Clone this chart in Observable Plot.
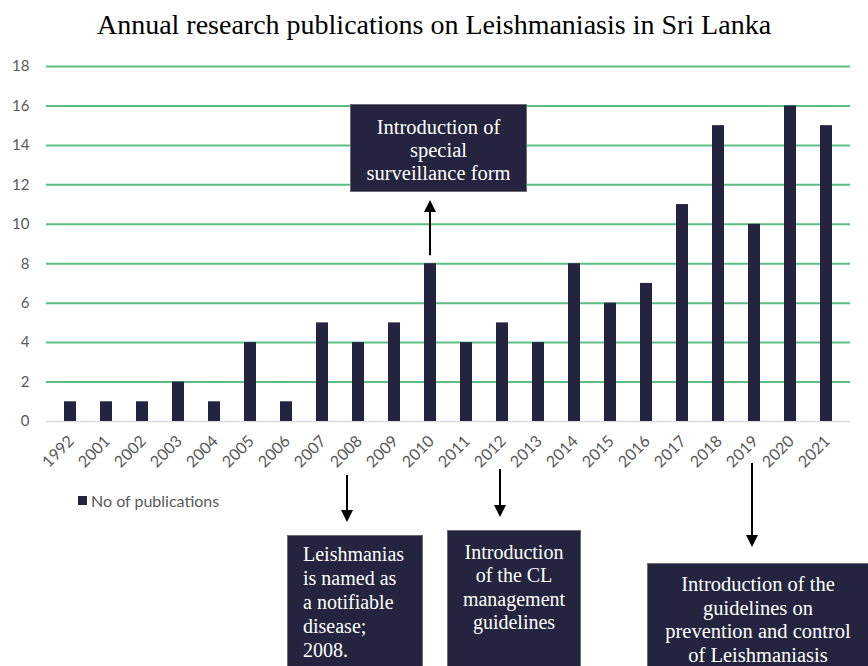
<!DOCTYPE html>
<html>
<head>
<meta charset="utf-8">
<script src="https://cdn.jsdelivr.net/npm/d3@7"></script>
<script src="https://cdn.jsdelivr.net/npm/@observablehq/plot@0.6"></script>
<style>
  html, body { margin: 0; padding: 0; background: #fff; }
  #wrap { position: relative; width: 868px; height: 666px; overflow: hidden; background: #fff; }
  #title { height: 46px; width: 868px; text-align: center; font-family: "Liberation Serif", serif; font-size: 28px; line-height: 30px; box-sizing: border-box; color: #000; }
  #title span { position: relative; top: 10px; }
  .legend { position: absolute; left: 78px; top: 491px; font-family: Lato, "Open Sans", sans-serif; font-size: 16px; color: #595959; display: flex; align-items: center; }
  .legend i { display: inline-block; width: 9px; height: 9px; background: #252440; margin-right: 4px; }
  .box { position: absolute; background: #25243f; border: 1px solid #6b6b78; box-sizing: border-box; color: #fff; font-family: "Liberation Serif", serif; }
  .box div { white-space: nowrap; }
  #overlay { position: absolute; left: 0; top: 0; pointer-events: none; }
</style>
</head>
<body>
<div id="wrap">
  <div id="title"><span>Annual research publications on Leishmaniasis in Sri Lanka</span></div>
  <div id="chart"></div>
  <div class="legend"><i></i>No of publications</div>
</div>
<script>
const years = ["1992","2001","2002","2003","2004","2005","2006","2007","2008","2009","2010","2011","2012","2013","2014","2015","2016","2017","2018","2019","2020","2021"];
const publications = [1,1,1,2,1,4,1,5,4,5,8,4,5,4,8,6,7,11,15,10,16,15];
const yTicks = [0,2,4,6,8,10,12,14,16,18];
const gridTicks = [2,4,6,8,10,12,14,16,18];
const seriesName = "No of publications";

const annotations = [
  {year: "2010", lines: ["Introduction of", "special", "surveillance form"], dir: "up"},
  {year: "2008", lines: ["Leishmanias", "is named as", "a notifiable", "disease;", "2008."], dir: "down"},
  {year: "2012", lines: ["Introduction", "of the CL", "management", "guidelines"], dir: "down"},
  {year: "2019", lines: ["Introduction of the", "guidelines on", "prevention and control", "of Leishmaniasis"], dir: "down"}
];
// layout/styling of annotations (pixel offsets relative to the year's band centre / axis baseline)
const annotationStyle = {
  "2010": {dx: 0, tail: -8, tip: 200, box: {left: -80, top: 104, w: 177, h: 88, pad: 11, size: 20.5, lh: 23, align: "center", padL: 0}},
  "2008": {dx: -11, tail: 54, tip: 522, box: {left: -71, top: 535, w: 136, h: 140, pad: 6, size: 20, lh: 24, align: "left", padL: 15}},
  "2012": {dx: -2, tail: 48, tip: 517, box: {left: -55, top: 530, w: 134, h: 140, pad: 10, size: 20, lh: 23.3, align: "center", padL: 0}},
  "2019": {dx: -2, tail: 42, tip: 547, box: {left: -107, top: 563, w: 222, h: 110, pad: 9, size: 20.5, lh: 23.7, align: "center", padL: 0}}
};

const data = years.map((y, i) => ({year: y, value: publications[i]}));
const TOP = 46;

const chart = Plot.plot({
  width: 868,
  height: 620,
  marginTop: 20,
  marginBottom: 245,
  marginLeft: 46,
  marginRight: 18,
  style: {fontFamily: "Lato, 'Open Sans', sans-serif", fontSize: "15px", color: "#595959", background: "transparent", overflow: "visible"},
  x: {domain: years, paddingInner: 0.67, paddingOuter: 0.335, label: null},
  y: {domain: [0, 18], label: null},
  marks: [
    Plot.gridY(gridTicks, {stroke: "#5cbf81", strokeOpacity: 1, strokeWidth: 2}),
    Plot.ruleY([0], {stroke: "#d9d9d9", strokeWidth: 1.5}),
    Plot.barY(data, {x: "year", y: "value", fill: "#252440", title: d => `${seriesName}: ${d.value}`}),
    Plot.axisY(yTicks, {tickSize: 0, tickPadding: 17, fontSize: 15, label: null}),
    Plot.axisX({tickRotate: -45, tickSize: 0, tickPadding: 12, fontSize: 16, dy: 5, dx: 1, label: null})
  ]
});
document.getElementById("chart").appendChild(chart);

const xs = chart.scale("x");
const ys = chart.scale("y");
const cx = yr => xs.apply(yr) + xs.bandwidth / 2;
const base = ys.apply(0) + TOP;
const wrap = document.getElementById("wrap");

const svg = d3.select(wrap).append("svg").attr("id", "overlay").attr("width", 868).attr("height", 666);

annotations.forEach(a => {
  const s = annotationStyle[a.year];
  const c = cx(a.year);
  const ax = c + s.dx;
  const val = publications[years.indexOf(a.year)];
  const tail = a.dir === "up" ? ys.apply(val) + TOP + s.tail : base + s.tail;
  const tip = s.tip;
  const sign = tip > tail ? 1 : -1;
  svg.append("line").attr("x1", ax).attr("x2", ax).attr("y1", tail).attr("y2", tip - sign * 10)
    .attr("stroke", "#000").attr("stroke-width", 2);
  svg.append("path").attr("d", `M${ax - 6},${tip - sign * 12} L${ax + 6},${tip - sign * 12} L${ax},${tip} Z`).attr("fill", "#000");

  const b = s.box;
  const div = document.createElement("div");
  div.className = "box";
  div.style.left = (c + b.left) + "px";
  div.style.top = b.top + "px";
  div.style.width = b.w + "px";
  div.style.height = b.h + "px";
  div.style.paddingTop = b.pad + "px";
  div.style.paddingLeft = b.padL + "px";
  div.style.textAlign = b.align;
  div.style.fontSize = b.size + "px";
  div.style.lineHeight = b.lh + "px";
  a.lines.forEach(t => { const l = document.createElement("div"); l.textContent = t; div.appendChild(l); });
  wrap.appendChild(div);
});
</script>
</body>
</html>
